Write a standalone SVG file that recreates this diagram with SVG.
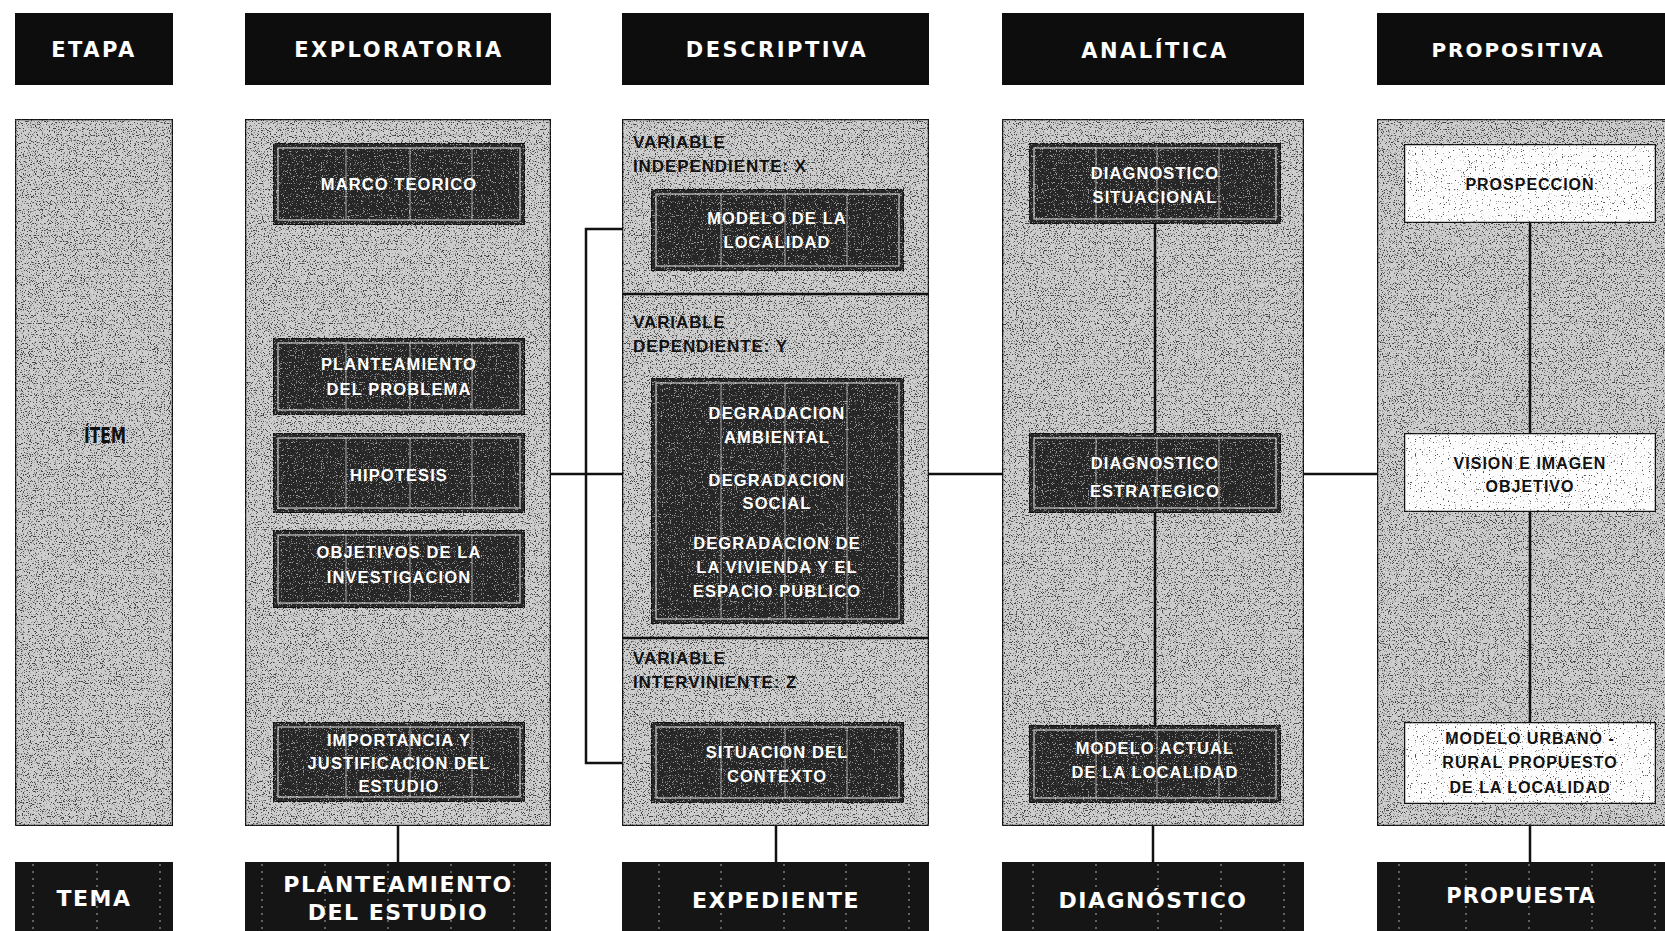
<svg xmlns="http://www.w3.org/2000/svg" width="1665" height="931" viewBox="0 0 1665 931">
  <defs>
    <!-- speckled print texture for the grey panels -->
    <filter id="grain" x="0" y="0" width="100%" height="100%" color-interpolation-filters="sRGB">
      <feTurbulence type="fractalNoise" baseFrequency="0.85" numOctaves="2" seed="7" result="noise"/>
      <feColorMatrix in="noise" type="matrix" values="0 0 0 0 0.25  0 0 0 0 0.25  0 0 0 0 0.25  -9 0 0 0 3.9" result="specks"/>
      <feComposite in="specks" in2="SourceGraphic" operator="in" result="dots"/>
      <feMerge><feMergeNode in="SourceGraphic"/><feMergeNode in="dots"/></feMerge>
    </filter>
    <!-- sparser specks for the white boxes -->
    <filter id="grainSparse" x="0" y="0" width="100%" height="100%" color-interpolation-filters="sRGB">
      <feTurbulence type="fractalNoise" baseFrequency="0.85" numOctaves="2" seed="3" result="noise"/>
      <feColorMatrix in="noise" type="matrix" values="0 0 0 0 0.3  0 0 0 0 0.3  0 0 0 0 0.3  -10 0 0 0 3.4" result="specks"/>
      <feComposite in="specks" in2="SourceGraphic" operator="in" result="dots"/>
      <feMerge><feMergeNode in="SourceGraphic"/><feMergeNode in="dots"/></feMerge>
    </filter>
    <!-- light specks for the dark boxes -->
    <filter id="grainLight" x="0" y="0" width="100%" height="100%" color-interpolation-filters="sRGB">
      <feTurbulence type="fractalNoise" baseFrequency="0.85" numOctaves="2" seed="11" result="noise"/>
      <feColorMatrix in="noise" type="matrix" values="0 0 0 0 0.6  0 0 0 0 0.6  0 0 0 0 0.6  10 0 0 0 -6.0" result="specks"/>
      <feComposite in="specks" in2="SourceGraphic" operator="in" result="dots"/>
      <feMerge><feMergeNode in="SourceGraphic"/><feMergeNode in="dots"/></feMerge>
    </filter>
  </defs>
  <style>
    .hdr { fill: #0d0d0d; }
    .hdr-t { font-family: "DejaVu Sans", "Liberation Sans", sans-serif; font-weight: bold; font-size: 21px; letter-spacing: 2.5px; fill: #ffffff; text-anchor: middle; }
    .panel { fill: #cdcdcd; stroke: #111; stroke-width: 2.5; }
    .item { fill: #262626; stroke: #111; stroke-width: 2; }
    .item-in { fill: none; stroke: #ffffff; stroke-width: 1.2; opacity: 0.75; }
    .item-cols { stroke: #ffffff; stroke-width: 1; opacity: 0.6; fill: none; }
    .item-t { font-family: "Liberation Sans", Arial, sans-serif; font-weight: bold; font-size: 16.5px; letter-spacing: 1.1px; fill: #ffffff; text-anchor: middle; }
    .wbox { fill: #fdfdfd; stroke: #111; stroke-width: 2.5; }
    .wbox-t { font-family: "Liberation Sans", Arial, sans-serif; font-weight: bold; font-size: 16px; letter-spacing: 1px; fill: #111; text-anchor: middle; }
    .var-t { font-family: "Liberation Sans", Arial, sans-serif; font-weight: bold; font-size: 17px; letter-spacing: 0.9px; fill: #111; }
    .item-lbl { font-family: "DejaVu Sans", "Liberation Sans", sans-serif; font-weight: bold; font-size: 21px; fill: #111; text-anchor: middle; }
    .foot { fill: #151515; }
    .foot-cols { stroke: #ffffff; stroke-width: 1.2; stroke-dasharray: 2 5; opacity: 0.55; fill: none; }
    .foot-t { font-family: "DejaVu Sans", "Liberation Sans", sans-serif; font-weight: bold; font-size: 22px; letter-spacing: 1.5px; fill: #ffffff; text-anchor: middle; }
    .link { stroke: #111; stroke-width: 2.5; fill: none; }
  </style>

  <rect width="1665" height="931" fill="#ffffff"/>

  <!-- stage headers -->
  <g id="header-etapa">
    <rect class="hdr" x="15" y="13" width="158" height="72"/>
    <text class="hdr-t" x="94" y="57">ETAPA</text>
  </g>
  <g id="header-exploratoria">
    <rect class="hdr" x="245" y="13" width="306" height="72"/>
    <text class="hdr-t" x="399" y="57">EXPLORATORIA</text>
  </g>
  <g id="header-descriptiva">
    <rect class="hdr" x="622" y="13" width="307" height="72"/>
    <text class="hdr-t" x="777" y="57">DESCRIPTIVA</text>
  </g>
  <g id="header-analitica">
    <rect class="hdr" x="1002" y="13" width="302" height="72"/>
    <text class="hdr-t" x="1155" y="58">ANALÍTICA</text>
  </g>
  <g id="header-propositiva">
    <rect class="hdr" x="1377" y="13" width="300" height="72"/>
    <text class="hdr-t" x="1518" y="57" style="font-size:20px;letter-spacing:2px">PROPOSITIVA</text>
  </g>

  <!-- grey column panels -->
  <g id="panel-item">
    <rect class="panel" x="15" y="119" width="158" height="707" filter="url(#grain)"/>
    <text class="item-lbl" x="105" y="443" textLength="42" lengthAdjust="spacingAndGlyphs">ÍTEM</text>
  </g>
  <g id="panel-exploratoria">
    <rect class="panel" x="245" y="119" width="306" height="707" filter="url(#grain)"/>
  </g>
  <g id="panel-descriptiva">
    <rect class="panel" x="622" y="119" width="307" height="707" filter="url(#grain)"/>
    <path class="link" d="M622 294 H929 M622 638 H929"/>
    <text class="var-t" x="633" y="148">VARIABLE</text>
    <text class="var-t" x="633" y="172">INDEPENDIENTE: X</text>
    <text class="var-t" x="633" y="328">VARIABLE</text>
    <text class="var-t" x="633" y="352">DEPENDIENTE: Y</text>
    <text class="var-t" x="633" y="664">VARIABLE</text>
    <text class="var-t" x="633" y="688">INTERVINIENTE: Z</text>
  </g>
  <g id="panel-analitica">
    <rect class="panel" x="1002" y="119" width="302" height="707" filter="url(#grain)"/>
  </g>
  <g id="panel-propositiva">
    <rect class="panel" x="1377" y="119" width="310" height="707" filter="url(#grain)"/>
  </g>

  <!-- connectors -->
  <g id="connectors">
    <path class="link" d="M551 474 H622 M929 474 H1002 M1304 474 H1377"/>
    <path class="link" d="M622 229 H586 V763 H622"/>
    <path class="link" d="M1155 224 V433 M1155 513 V725"/>
    <path class="link" d="M1530 223 V433 M1530 512 V722"/>
    <path class="link" d="M398 826 V862 M776 826 V862 M1153 826 V862 M1530 826 V862"/>
  </g>

  <!-- EXPLORATORIA items -->
  <g id="marco-teorico">
    <rect class="item" x="273" y="143" width="252" height="82" filter="url(#grainLight)"/>
    <rect class="item-in" x="278" y="148" width="242" height="72"/>
    <path class="item-cols" d="M346 148 V220 M410 148 V220 M472 148 V220"/>
    <text class="item-t" x="399" y="190">MARCO TEORICO</text>
  </g>
  <g id="planteamiento-problema">
    <rect class="item" x="273" y="338" width="252" height="77" filter="url(#grainLight)"/>
    <rect class="item-in" x="278" y="343" width="242" height="67"/>
    <path class="item-cols" d="M346 343 V410 M410 343 V410 M472 343 V410"/>
    <text class="item-t" x="399" y="370">PLANTEAMIENTO</text>
    <text class="item-t" x="399" y="395">DEL PROBLEMA</text>
  </g>
  <g id="hipotesis">
    <rect class="item" x="273" y="433" width="252" height="80" filter="url(#grainLight)"/>
    <rect class="item-in" x="278" y="438" width="242" height="70"/>
    <path class="item-cols" d="M346 438 V508 M410 438 V508 M472 438 V508"/>
    <text class="item-t" x="399" y="481">HIPOTESIS</text>
  </g>
  <g id="objetivos">
    <rect class="item" x="273" y="530" width="252" height="78" filter="url(#grainLight)"/>
    <rect class="item-in" x="278" y="535" width="242" height="68"/>
    <path class="item-cols" d="M346 535 V603 M410 535 V603 M472 535 V603"/>
    <text class="item-t" x="399" y="558">OBJETIVOS DE LA</text>
    <text class="item-t" x="399" y="583">INVESTIGACION</text>
  </g>
  <g id="importancia">
    <rect class="item" x="273" y="722" width="252" height="80" filter="url(#grainLight)"/>
    <rect class="item-in" x="278" y="727" width="242" height="70"/>
    <path class="item-cols" d="M346 727 V797 M410 727 V797 M472 727 V797"/>
    <text class="item-t" x="399" y="746">IMPORTANCIA Y</text>
    <text class="item-t" x="399" y="769">JUSTIFICACION DEL</text>
    <text class="item-t" x="399" y="792">ESTUDIO</text>
  </g>

  <!-- DESCRIPTIVA items -->
  <g id="modelo-localidad">
    <rect class="item" x="651" y="189" width="253" height="82" filter="url(#grainLight)"/>
    <rect class="item-in" x="656" y="194" width="243" height="72"/>
    <path class="item-cols" d="M721 194 V266 M785 194 V266 M847 194 V266"/>
    <text class="item-t" x="777" y="224">MODELO DE LA</text>
    <text class="item-t" x="777" y="248">LOCALIDAD</text>
  </g>
  <g id="degradacion">
    <rect class="item" x="651" y="378" width="253" height="246" filter="url(#grainLight)"/>
    <rect class="item-in" x="656" y="383" width="243" height="236"/>
    <path class="item-cols" d="M721 383 V619 M785 383 V619 M847 383 V619"/>
    <text class="item-t" x="777" y="419">DEGRADACION</text>
    <text class="item-t" x="777" y="443">AMBIENTAL</text>
    <text class="item-t" x="777" y="486">DEGRADACION</text>
    <text class="item-t" x="777" y="509">SOCIAL</text>
    <text class="item-t" x="777" y="549">DEGRADACION DE</text>
    <text class="item-t" x="777" y="573">LA VIVIENDA Y EL</text>
    <text class="item-t" x="777" y="597">ESPACIO PUBLICO</text>
  </g>
  <g id="situacion-contexto">
    <rect class="item" x="651" y="722" width="253" height="81" filter="url(#grainLight)"/>
    <rect class="item-in" x="656" y="727" width="243" height="71"/>
    <path class="item-cols" d="M721 727 V798 M785 727 V798 M847 727 V798"/>
    <text class="item-t" x="777" y="758">SITUACION DEL</text>
    <text class="item-t" x="777" y="782">CONTEXTO</text>
  </g>

  <!-- ANALÍTICA items -->
  <g id="diagnostico-situacional">
    <rect class="item" x="1029" y="143" width="252" height="81" filter="url(#grainLight)"/>
    <rect class="item-in" x="1034" y="148" width="242" height="71"/>
    <path class="item-cols" d="M1096 148 V219 M1157 148 V219 M1219 148 V219"/>
    <text class="item-t" x="1155" y="179">DIAGNOSTICO</text>
    <text class="item-t" x="1155" y="203">SITUACIONAL</text>
  </g>
  <g id="diagnostico-estrategico">
    <rect class="item" x="1029" y="433" width="252" height="80" filter="url(#grainLight)"/>
    <rect class="item-in" x="1034" y="438" width="242" height="70"/>
    <path class="item-cols" d="M1096 438 V508 M1157 438 V508 M1219 438 V508"/>
    <text class="item-t" x="1155" y="469">DIAGNOSTICO</text>
    <text class="item-t" x="1155" y="497">ESTRATEGICO</text>
  </g>
  <g id="modelo-actual">
    <rect class="item" x="1029" y="725" width="252" height="78" filter="url(#grainLight)"/>
    <rect class="item-in" x="1034" y="730" width="242" height="68"/>
    <path class="item-cols" d="M1096 730 V798 M1157 730 V798 M1219 730 V798"/>
    <text class="item-t" x="1155" y="754">MODELO ACTUAL</text>
    <text class="item-t" x="1155" y="778">DE LA LOCALIDAD</text>
  </g>

  <!-- PROPOSITIVA items -->
  <g id="prospeccion">
    <rect class="wbox" x="1404" y="144" width="252" height="79" filter="url(#grainSparse)"/>
    <text class="wbox-t" x="1530" y="190">PROSPECCION</text>
  </g>
  <g id="vision-imagen">
    <rect class="wbox" x="1404" y="433" width="252" height="79" filter="url(#grainSparse)"/>
    <text class="wbox-t" x="1530" y="469">VISION E IMAGEN</text>
    <text class="wbox-t" x="1530" y="492">OBJETIVO</text>
  </g>
  <g id="modelo-urbano-rural">
    <rect class="wbox" x="1404" y="722" width="252" height="82" filter="url(#grainSparse)"/>
    <text class="wbox-t" x="1530" y="744">MODELO URBANO -</text>
    <text class="wbox-t" x="1530" y="768">RURAL PROPUESTO</text>
    <text class="wbox-t" x="1530" y="793">DE LA LOCALIDAD</text>
  </g>

  <!-- result row -->
  <g id="foot-tema">
    <rect class="foot" x="15" y="862" width="158" height="80"/>
    <path class="foot-cols" d="M33 864 V931 M97 864 V931 M160 864 V931"/>
    <text class="foot-t" x="94" y="906">TEMA</text>
  </g>
  <g id="foot-planteamiento">
    <rect class="foot" x="245" y="862" width="306" height="80"/>
    <path class="foot-cols" d="M262 864 V931 M325 864 V931 M388 864 V931 M451 864 V931 M514 864 V931 M546 864 V931"/>
    <text class="foot-t" x="398" y="892">PLANTEAMIENTO</text>
    <text class="foot-t" x="398" y="920">DEL ESTUDIO</text>
  </g>
  <g id="foot-expediente">
    <rect class="foot" x="622" y="862" width="307" height="80"/>
    <path class="foot-cols" d="M659 864 V931 M721 864 V931 M784 864 V931 M846 864 V931 M909 864 V931"/>
    <text class="foot-t" x="776" y="908">EXPEDIENTE</text>
  </g>
  <g id="foot-diagnostico">
    <rect class="foot" x="1002" y="862" width="302" height="80"/>
    <path class="foot-cols" d="M1033 864 V931 M1096 864 V931 M1158 864 V931 M1221 864 V931 M1284 864 V931"/>
    <text class="foot-t" x="1153" y="908">DIAGNÓSTICO</text>
  </g>
  <g id="foot-propuesta">
    <rect class="foot" x="1377" y="862" width="300" height="80"/>
    <path class="foot-cols" d="M1399 864 V931 M1466 864 V931 M1529 864 V931 M1592 864 V931 M1655 864 V931"/>
    <text class="foot-t" x="1521" y="903" style="font-size:21px;letter-spacing:1px">PROPUESTA</text>
  </g>
</svg>
